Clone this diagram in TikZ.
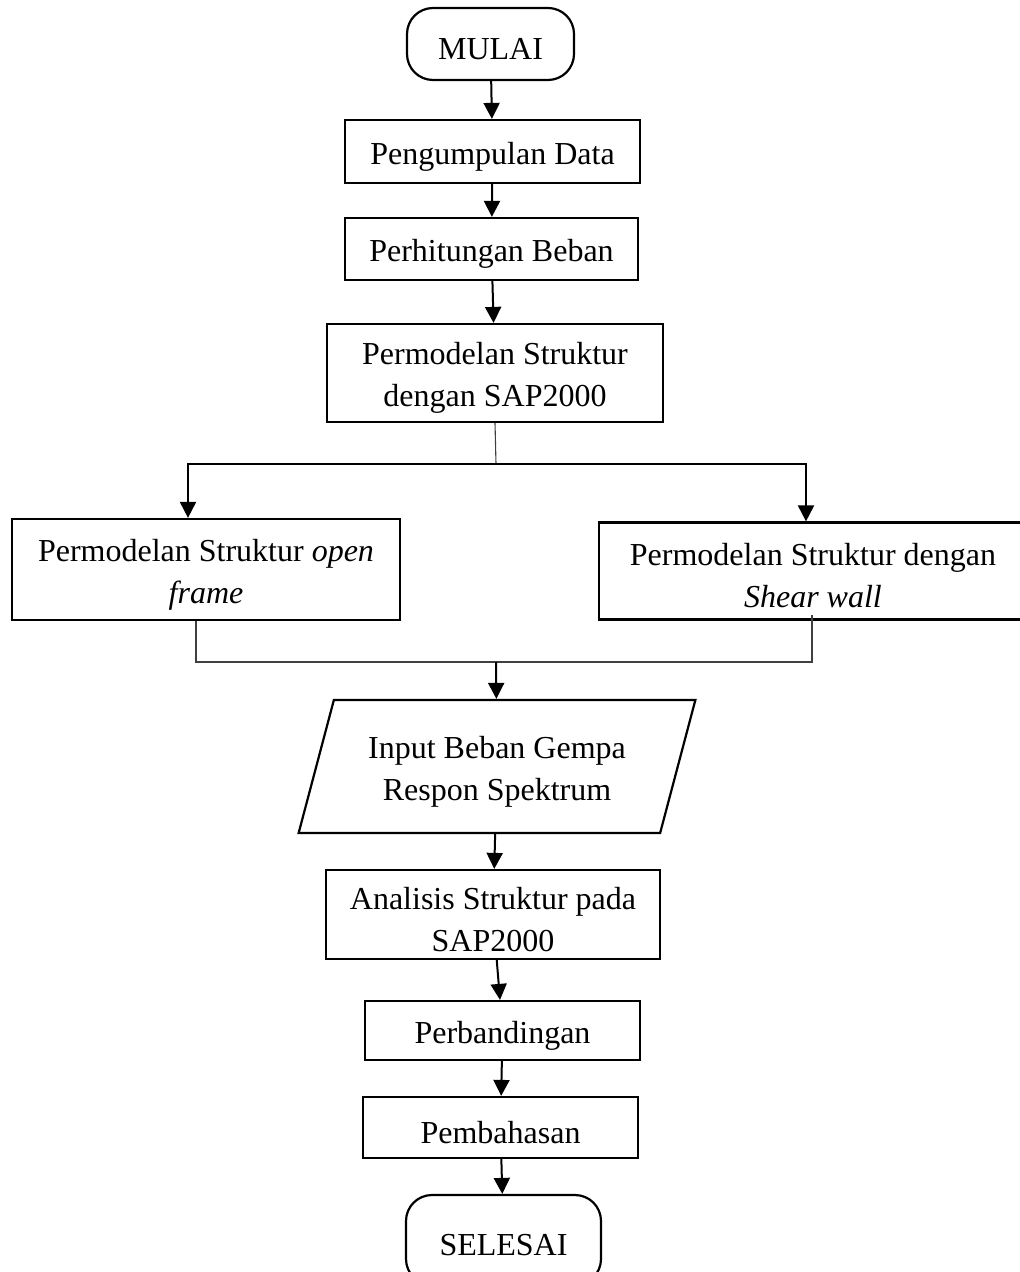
\documentclass[tikz,border=0pt]{standalone}
\usepackage{fontspec}
\setmainfont{Liberation Serif}
\usepackage{tikz}
\usetikzlibrary{arrows.meta}
\usetikzlibrary{shapes.geometric}
\usetikzlibrary{positioning}
\newcommand{\lift}{\rule{0pt}{16pt}}

\begin{document}
\begin{tikzpicture}[x=0.5pt, y=-0.5pt,
                    every node/.style={font=\fontsize{16pt}{21pt}\selectfont, align=center, inner sep=0pt, execute at begin node={\lift}},
                    box/.style={draw, line width=1.1pt, rectangle},
                    term/.style={draw, line width=1.1pt, rectangle, rounded corners=13pt},
                    inbox/.style={draw, line width=1.1pt, trapezium, trapezium left angle=71, trapezium right angle=109, trapezium stretches=true},
                    arrow/.style={line width=1pt, -{Triangle[width=8pt, length=8pt]}},
                    thinline/.style={line width=0.55pt, black!75}]
                    \useasboundingbox (0,0) rectangle (1019,1272);
                    
                    \node (start) [term, minimum width=83.5pt, minimum height=36pt] at (490.5,44) {MULAI};
                    \node (data) [box, minimum width=147.5pt, minimum height=31.5pt] at (492.5,151.5) {Pengumpulan Data};
                    \node (beban) [box, minimum width=146.5pt, minimum height=31pt] at (491.5,249) {Perhitungan Beban};
                    \node (model) [box, minimum width=168pt, minimum height=49pt] at (495,373) {\lift Permodelan Struktur\\dengan SAP2000};
                    \node (open) [box, minimum width=194pt, minimum height=50.5pt] at (206,569.5) {\lift Permodelan Struktur \textit{open}\\\textit{frame}};
                    \node (shear) [box, minimum width=214pt, minimum height=48.5pt] at (813,571) {\lift Permodelan Struktur dengan\\\textit{Shear wall}};
                    \node (input) [inbox, minimum width=198.5pt, minimum height=66.5pt] at (497,766.5) {\lift Input Beban Gempa\\Respon Spektrum};
                    \node (analisis) [box, minimum width=167pt, minimum height=44.5pt] at (493,914.5) {\lift Analisis Struktur pada\\SAP2000};
                    \node (banding) [box, minimum width=137.5pt, minimum height=29.5pt] at (502.5,1030.5) {Perbandingan};
                    \node (bahas) [box, minimum width=137.5pt, minimum height=30.5pt] at (500.5,1127.5) {Pembahasan};
                    \node (end) [term, minimum width=97.5pt, minimum height=45pt] at (503.5,1240) {SELESAI};
                    
                    \coordinate (split) at (496,464);
                    \coordinate (join) at (496,662);
                    
                    \foreach \a/\b in {start/data, data/beban, beban/model, input/analisis, analisis/banding, banding/bahas, bahas/end} {
                        \draw[arrow] (\a) -- (\b);
                    }
                    
                    \draw[thinline] (model.south) -- (split);
                    \draw[arrow] (split) -| ([xshift=-9pt]open.north);
                    \draw[arrow] (split) -| ([xshift=-3.5pt]shear.north);
                    \draw[thinline] ([xshift=-5pt]open.south) |- (join) -| ([xshift=-0.5pt,yshift=3pt]shear.south);
                    \draw[arrow] (join) -- (input);
                \end{tikzpicture}
\end{document}
